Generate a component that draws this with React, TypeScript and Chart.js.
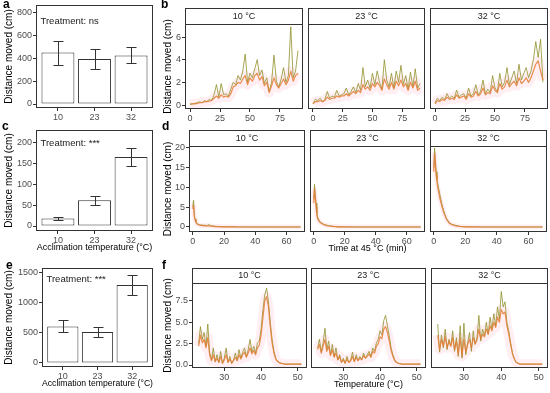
import React, { useEffect, useRef } from 'react';
import { Chart, registerables } from 'chart.js';
Chart.register(...registerables);

const FONT = "'Liberation Sans', Arial, sans-serif";

// ---------- data ----------
const ACCLIM = ['10', '23', '32'];
const STRIPS = ['10 °C', '23 °C', '32 °C'];

const A_MEAN = [450, 395, 425];
const A_LO = [345, 310, 355];
const A_HI = [555, 485, 495];
const A_YTICKS = [0, 200, 400, 600, 800];

const C_MEAN = [18, 62, 166];
const C_LO = [14, 50, 145];
const C_HI = [21, 73, 187];
const C_YTICKS = [0, 50, 100, 150, 200];

const E_MEAN = [610, 515, 1300];
const E_LO = [510, 430, 1135];
const E_HI = [720, 600, 1460];
const E_YTICKS = [0, 500, 1000, 1500];

const B_TIME = [0, 2, 4, 6, 8, 10, 12, 14, 16, 18, 20, 22, 24, 26, 28, 30, 32, 34, 36, 38, 40, 42, 44, 46, 48, 50, 52, 54, 56, 58, 60, 62, 64, 66, 68, 70, 72, 74, 76, 78, 80, 82, 84, 86, 88, 90];
const B_XTICKS = [0, 25, 50, 75];
const B_YTICKS = [0, 2, 4, 6];
const B10_ORANGE = [0.05, 0.1, 0.1, 0.15, 0.2, 0.2, 0.3, 0.3, 0.35, 0.4, 0.6, 0.8, 0.6, 0.9, 0.7, 0.8, 0.7, 1.0, 1.6, 1.7, 2.0, 1.9, 2.3, 2.6, 1.8, 2.4, 2.1, 2.6, 2.8, 2.2, 2.5, 1.7, 2.0, 1.1, 1.7, 2.4, 1.8, 1.5, 1.9, 2.3, 1.8, 2.2, 3.0, 2.1, 2.6, 2.8];
const B10_OLIVE = [0.1, 0.1, 0.15, 0.2, 0.3, 0.2, 0.4, 0.3, 0.5, 0.4, 0.9, 1.8, 0.7, 1.9, 0.9, 1.0, 0.8, 1.4, 2.0, 1.8, 2.6, 2.2, 3.0, 4.5, 2.0, 2.8, 2.4, 3.2, 4.0, 2.6, 3.1, 1.9, 2.4, 1.2, 2.0, 4.4, 2.1, 1.6, 2.3, 3.3, 2.0, 2.6, 6.9, 2.4, 3.0, 4.8];
const B23_ORANGE = [0.1, 0.3, 0.3, 0.4, 0.3, 0.4, 0.7, 0.5, 0.6, 0.6, 0.8, 0.7, 0.8, 0.8, 1.0, 0.8, 1.0, 1.2, 1.0, 1.3, 1.1, 1.8, 1.4, 1.6, 1.3, 1.9, 1.6, 2.0, 1.7, 1.3, 2.3, 1.8, 1.4, 2.0, 1.4, 2.1, 1.7, 2.2, 1.6, 1.9, 1.3, 2.0, 1.5, 2.1, 1.3, 1.5];
const B23_OLIVE = [0.1, 0.5, 0.4, 0.6, 0.3, 0.5, 1.2, 0.6, 0.8, 0.7, 1.3, 0.8, 0.9, 1.0, 1.5, 0.9, 1.2, 1.6, 1.1, 1.9, 1.3, 3.3, 1.6, 2.2, 1.5, 2.8, 1.8, 3.0, 2.0, 1.4, 4.0, 2.2, 1.6, 2.8, 1.5, 3.0, 2.0, 3.5, 1.8, 2.6, 1.4, 2.9, 1.6, 3.2, 1.5, 1.9];
const B32_ORANGE = [0.1, 0.4, 0.3, 0.5, 0.4, 0.7, 0.5, 0.6, 0.5, 0.9, 0.6, 0.7, 0.8, 0.5, 1.0, 0.7, 0.8, 1.2, 0.8, 1.0, 1.5, 0.9, 1.1, 1.0, 1.7, 1.3, 1.1, 1.9, 1.4, 1.6, 2.2, 1.6, 1.9, 2.1, 1.7, 2.4, 1.9, 2.1, 2.4, 2.0, 2.4, 3.0, 3.6, 3.9, 3.0, 2.2];
const B32_OLIVE = [0.2, 0.6, 0.4, 0.7, 0.5, 1.0, 0.6, 0.8, 0.6, 1.3, 0.7, 0.9, 1.0, 0.6, 1.5, 0.8, 1.0, 1.8, 0.9, 1.2, 2.2, 1.0, 1.4, 1.1, 2.6, 1.5, 1.2, 2.8, 1.6, 2.0, 3.3, 1.8, 2.4, 3.0, 1.9, 3.6, 2.2, 2.8, 3.3, 2.4, 3.0, 4.0, 5.6, 4.2, 5.8, 2.0];

const D_TIME = [0, 0.5, 1, 1.5, 2, 2.5, 3, 4, 5, 6, 7, 8, 9, 10, 12, 14, 16, 18, 20, 25, 30, 35, 40, 45, 50, 55, 60, 65, 69];
const D_XTICKS = [0, 20, 40, 60];
const D_YTICKS = [0, 5, 10, 15, 20];
const D10_ORANGE = [4.5, 5.5, 2.6, 1.8, 1.2, 0.9, 0.7, 0.5, 0.4, 0.4, 0.3, 0.3, 0.25, 0.3, 0.2, 0.1, 0.1, 0.05, 0.05, 0.02, 0, 0, 0, 0, 0, 0, 0, 0, 0];
const D10_OLIVE = [5.0, 6.8, 3.0, 2.0, 1.4, 1.0, 0.8, 0.6, 0.5, 0.5, 0.4, 0.5, 0.3, 0.6, 0.3, 0.2, 0.1, 0.1, 0.05, 0.05, 0.02, 0.02, 0, 0, 0, 0, 0, 0, 0];
const D23_ORANGE = [6.0, 9.5, 7.5, 5.0, 3.0, 2.2, 1.7, 1.2, 0.9, 0.7, 0.5, 0.4, 0.3, 0.25, 0.15, 0.1, 0.05, 0.02, 0.02, 0, 0, 0, 0, 0, 0, 0, 0, 0, 0];
const D23_OLIVE = [7.0, 10.8, 8.5, 6.0, 3.5, 2.5, 2.0, 1.4, 1.0, 0.8, 0.6, 0.5, 0.4, 0.3, 0.2, 0.1, 0.05, 0.05, 0.02, 0.02, 0, 0, 0, 0, 0, 0, 0, 0, 0];
const D32_ORANGE = [14, 18.5, 16, 13, 11.5, 10, 9, 7, 5.5, 4, 3, 2, 1.4, 0.9, 0.5, 0.3, 0.15, 0.1, 0.05, 0.02, 0, 0, 0, 0, 0, 0, 0, 0, 0];
const D32_OLIVE = [15, 20, 17, 14, 12, 11, 10, 8, 6, 4.5, 3.2, 2.2, 1.6, 1.0, 0.6, 0.4, 0.2, 0.1, 0.05, 0.02, 0.02, 0, 0, 0, 0, 0, 0, 0, 0];

const F_TEMP = [23, 23.5, 24, 24.5, 25, 25.5, 26, 26.5, 27, 27.5, 28, 28.5, 29, 29.5, 30, 30.5, 31, 31.5, 32, 32.5, 33, 33.5, 34, 34.5, 35, 35.5, 36, 36.5, 37, 37.5, 38, 38.5, 39, 39.5, 40, 40.5, 41, 41.5, 42, 42.5, 43, 43.5, 44, 44.5, 45, 45.5, 46, 46.5, 47, 47.5, 48, 48.5, 49, 49.5, 50, 50.5, 51];
const F_XTICKS = [30, 40, 50];
const F_YTICKS = [0, 2.5, 5, 7.5];
const F10_ORANGE = [2.2, 3.5, 2.6, 3.0, 2.0, 3.2, 1.2, 0.5, 1.2, 0.4, 0.8, 0.3, 1.0, 0.2, 0.6, 1.2, 0.3, 0.7, 0.2, 0.5, 0.9, 0.5, 1.2, 0.7, 1.2, 1.5, 0.9, 1.4, 2.0, 1.3, 1.7, 1.2, 2.0, 2.3, 3.5, 5.5, 7.5, 8.0, 6.8, 4.5, 2.6, 1.4, 0.7, 0.4, 0.25, 0.2, 0.15, 0.1, 0.1, 0.1, 0.1, 0.1, 0.1, 0.1, 0.1, 0.1, 0.1];
const F10_OLIVE = [2.5, 4.5, 3.0, 3.8, 2.2, 4.8, 1.5, 0.6, 2.0, 0.4, 1.2, 0.3, 1.6, 0.2, 0.8, 2.0, 0.3, 1.0, 0.2, 0.6, 1.4, 0.5, 1.8, 0.8, 1.5, 2.0, 1.0, 1.8, 3.0, 1.5, 2.2, 1.4, 2.6, 2.8, 4.2, 6.5, 8.2, 9.0, 7.5, 5.0, 3.0, 1.6, 0.8, 0.4, 0.3, 0.2, 0.15, 0.1, 0.1, 0.1, 0.1, 0.1, 0.1, 0.1, 0.1, 0.1, 0.1];
const F23_ORANGE = [1.8, 2.4, 1.4, 2.2, 3.0, 1.6, 2.2, 1.1, 1.8, 0.9, 1.4, 0.6, 1.0, 0.3, 0.6, 0.2, 0.7, 0.3, 0.5, 1.0, 0.4, 0.9, 0.5, 0.8, 0.6, 1.1, 0.8, 1.0, 1.3, 0.9, 1.6, 1.4, 2.2, 2.5, 3.3, 3.1, 4.2, 4.5, 3.8, 2.8, 1.7, 1.0, 0.5, 0.3, 0.2, 0.15, 0.1, 0.1, 0.1, 0.1, 0.1, 0.1, 0.1, 0.1, 0.1, 0.1, 0.1];
const F23_OLIVE = [2.0, 3.0, 1.5, 2.6, 4.3, 1.8, 2.8, 1.2, 2.4, 1.0, 2.0, 0.6, 1.2, 0.3, 0.8, 0.2, 1.0, 0.3, 0.6, 1.5, 0.4, 1.2, 0.5, 1.0, 0.6, 1.4, 0.8, 1.2, 1.6, 1.0, 2.0, 1.6, 2.6, 3.0, 4.0, 3.5, 5.2, 5.8, 4.6, 3.4, 2.0, 1.2, 0.6, 0.3, 0.2, 0.15, 0.1, 0.1, 0.1, 0.1, 0.1, 0.1, 0.1, 0.1, 0.1, 0.1, 0.1];
const F32_ORANGE = [3.5, 1.8, 3.0, 2.2, 3.3, 2.0, 2.8, 2.2, 3.2, 1.8, 2.8, 1.2, 3.2, 1.0, 3.0, 1.5, 2.4, 3.0, 2.0, 3.2, 2.5, 2.9, 4.2, 3.0, 3.6, 3.3, 4.2, 3.6, 4.6, 4.0, 5.0, 4.4, 5.6, 5.0, 6.5, 6.0, 6.2, 4.6, 3.6, 2.4, 1.3, 0.7, 0.3, 0.2, 0.1, 0.1, 0.1, 0.1, 0.1, 0.1, 0.1, 0.1, 0.1, 0.1, 0.1, 0.1, 0.1];
const F32_OLIVE = [4.8, 1.5, 3.5, 2.0, 4.2, 1.8, 3.0, 2.2, 4.0, 1.6, 3.2, 1.0, 4.6, 0.8, 4.9, 1.2, 2.6, 3.8, 1.6, 4.0, 2.4, 3.2, 5.8, 2.8, 4.2, 3.4, 5.0, 3.6, 5.6, 4.2, 6.0, 4.6, 6.8, 5.4, 8.6, 6.8, 7.4, 5.0, 4.0, 2.6, 1.4, 0.7, 0.3, 0.2, 0.1, 0.1, 0.1, 0.1, 0.1, 0.1, 0.1, 0.1, 0.1, 0.1, 0.1, 0.1, 0.1];

// ---------- styling ----------
const ORANGE = 'rgba(228,124,52,0.85)';
const OLIVE = 'rgba(145,145,45,0.8)';
const PINK = 'rgba(255,150,175,0.16)';
const INK = '#333333';
const TICK = '#4d4d4d';

const decor: any = {
  id: 'decor',
  afterDatasetsDraw(chart: any, _a: any, o: any) {
    if (!o || !o.lo) return;
    const { ctx, scales } = chart;
    const x = scales.x, y = scales.y;
    ctx.save();
    ctx.strokeStyle = INK;
    ctx.lineWidth = 1;
    for (let i = 0; i < o.lo.length; i++) {
      const px = Math.round(x.getPixelForValue(i + 1)) + 0.5;
      const y1 = Math.round(y.getPixelForValue(o.lo[i])) + 0.5;
      const y2 = Math.round(y.getPixelForValue(o.hi[i])) + 0.5;
      ctx.beginPath();
      ctx.moveTo(px, y1); ctx.lineTo(px, y2);
      ctx.moveTo(px - 5, y1); ctx.lineTo(px + 5, y1);
      ctx.moveTo(px - 5, y2); ctx.lineTo(px + 5, y2);
      ctx.stroke();
    }
    ctx.restore();
  },
  afterDraw(chart: any, _a: any, o: any) {
    const { ctx, chartArea: ca } = chart;
    ctx.save();
    ctx.strokeStyle = INK;
    ctx.lineWidth = 1;
    ctx.strokeRect(ca.left + 0.5, ca.top + 0.5, ca.right - ca.left - 1, ca.bottom - ca.top - 1);
    if (o && o.strip) {
      const h = o.stripH;
      ctx.fillStyle = '#ffffff';
      ctx.fillRect(ca.left, ca.top - h, ca.right - ca.left, h);
      ctx.strokeRect(ca.left + 0.5, ca.top - h + 0.5, ca.right - ca.left - 1, h);
      ctx.fillStyle = '#1a1a1a';
      ctx.font = `9px ${FONT}`;
      ctx.textAlign = 'center';
      ctx.textBaseline = 'middle';
      ctx.fillText(o.strip, (ca.left + ca.right) / 2, ca.top - h / 2 + 0.5);
    }
    if (o && o.note) {
      ctx.fillStyle = '#1a1a1a';
      ctx.font = `9.5px ${FONT}`;
      ctx.textAlign = 'left';
      ctx.textBaseline = 'middle';
      ctx.fillText(o.note, ca.left + 4.5, ca.top + o.noteDy);
    }
    ctx.restore();
  },
};

function axisX(min: number, max: number, ticks: number[], fmt: (v: number) => string, hgt: number, title: string) {
  return {
    type: 'linear', min, max, offset: false,
    afterBuildTicks: (s: any) => { s.ticks = ticks.map((v) => ({ value: v })); },
    afterFit: (s: any) => { s.height = hgt; s.paddingLeft = 0; s.paddingRight = 0; },
    ticks: { callback: (v: any) => fmt(Number(v)), font: { size: 9, family: FONT }, color: TICK, padding: 1, maxRotation: 0, autoSkip: false },
    grid: { drawOnChartArea: false, tickLength: 3, color: INK, offset: false },
    border: { display: false },
    title: { display: !!title, text: title, font: { size: 9, family: FONT }, color: '#000', padding: 0 },
  };
}

function axisY(min: number, max: number, ticks: number[], fmt: (v: number) => string, wid: number, show: boolean) {
  return {
    type: 'linear', min, max, display: show,
    afterBuildTicks: (s: any) => { s.ticks = ticks.map((v) => ({ value: v })); },
    afterFit: (s: any) => { s.width = wid; s.paddingTop = 0; s.paddingBottom = 0; },
    ticks: { callback: (v: any) => fmt(Number(v)), font: { size: 9, family: FONT }, color: TICK, padding: 1, autoSkip: false },
    grid: { drawOnChartArea: false, tickLength: 3, color: INK },
    border: { display: false },
    title: { display: show, text: 'Distance moved (cm)', font: { size: 10, family: FONT }, color: '#000', padding: 0 },
  };
}

type M = { l: number; t: number; r: number; b: number };

function barConfig(mean: number[], lo: number[], hi: number[], yMin: number, yMax: number, yTicks: number[], note: string, noteDy: number, m: M, xTitle: string) {
  return {
    type: 'bar',
    data: {
      datasets: [{
        data: mean.map((v, i) => ({ x: i + 1, y: v })),
        backgroundColor: '#ffffff', borderColor: INK, borderWidth: 1, borderSkipped: false,
        barPercentage: 0.9, categoryPercentage: 1,
      }],
    },
    options: {
      animation: false, responsive: false, devicePixelRatio: 1, events: [],
      layout: { padding: { left: 0, top: m.t, right: m.r, bottom: 0 } },
      plugins: { legend: { display: false }, tooltip: { enabled: false }, decor: { lo, hi, note, noteDy } },
      scales: {
        x: axisX(0.4, 3.6, [1, 2, 3], (v) => ACCLIM[v - 1] ?? '', m.b, xTitle),
        y: axisY(yMin, yMax, yTicks, (v) => String(v), m.l, true),
      },
    },
    plugins: [decor],
  };
}

function facetConfig(p: any) {
  const pts = (arr: number[]) => arr.map((v, i) => ({ x: p.time[i], y: v }));
  return {
    type: 'line',
    data: {
      datasets: [
        { data: pts(p.orange), borderColor: ORANGE, borderWidth: 1.2 },
        { data: pts(p.olive), borderColor: OLIVE, borderWidth: 1 },
        { data: pts(p.orange), borderColor: PINK, borderWidth: p.ribbon },
      ],
    },
    options: {
      animation: false, responsive: false, devicePixelRatio: 1, events: [],
      elements: { point: { radius: 0 }, line: { tension: 0, borderJoinStyle: 'round', fill: false } },
      layout: { padding: { left: p.showY ? 0 : p.m.l, top: p.m.t, right: p.m.r, bottom: 0 } },
      plugins: { legend: { display: false }, tooltip: { enabled: false }, decor: { strip: p.strip, stripH: p.stripH } },
      scales: {
        x: axisX(p.xMin, p.xMax, p.xTicks, (v) => String(v), p.m.b, p.xTitle),
        y: axisY(p.yMin, p.yMax, p.yTicks, p.yFmt, p.m.l, p.showY),
      },
    },
    plugins: [decor],
  };
}

function ChartBox({ L, T, R, B, m, make }: { L: number; T: number; R: number; B: number; m: M; make: () => any }) {
  const ref = useRef<HTMLCanvasElement>(null);
  const w = R - L + m.l + m.r;
  const h = B - T + m.t + m.b;
  useEffect(() => {
    const chart = new Chart(ref.current as HTMLCanvasElement, make());
    return () => chart.destroy();
  }, []);
  return <canvas ref={ref} width={w} height={h} style={{ position: 'absolute', left: L - m.l, top: T - m.t, width: w, height: h }} />;
}

const Letter = ({ ch, x, y }: { ch: string; x: number; y: number }) => (
  <div style={{ position: 'absolute', left: x, top: y, font: `bold 12px ${FONT}`, lineHeight: 1, color: '#000' }}>{ch}</div>
);

export default function App() {
  const bRow = [
    { L: 185, R: 303, orange: B10_ORANGE, olive: B10_OLIVE },
    { L: 307, R: 425, orange: B23_ORANGE, olive: B23_OLIVE },
    { L: 429, R: 548, orange: B32_ORANGE, olive: B32_OLIVE },
  ];
  const dRow = [
    { L: 189, R: 305, orange: D10_ORANGE, olive: D10_OLIVE },
    { L: 309, R: 425, orange: D23_ORANGE, olive: D23_OLIVE },
    { L: 429, R: 547, orange: D32_ORANGE, olive: D32_OLIVE },
  ];
  const fRow = [
    { L: 192, R: 307, orange: F10_ORANGE, olive: F10_OLIVE },
    { L: 310, R: 426, orange: F23_ORANGE, olive: F23_OLIVE },
    { L: 430, R: 548, orange: F32_ORANGE, olive: F32_OLIVE },
  ];
  return (
    <div style={{ position: 'fixed', left: 0, top: 0, width: 550, height: 393, background: '#fff', overflow: 'hidden' }}>
      <ChartBox L={36} T={5} R={153} B={108} m={{ l: 33, t: 2, r: 2, b: 14 }}
        make={() => barConfig(A_MEAN, A_LO, A_HI, -35, 867, A_YTICKS, 'Treatment: ns', 16.7, { l: 33, t: 2, r: 2, b: 14 }, '')} />
      <ChartBox L={36} T={130} R={153} B={231} m={{ l: 33, t: 2, r: 2, b: 22 }}
        make={() => barConfig(C_MEAN, C_LO, C_HI, -12, 231, C_YTICKS, 'Treatment: ***', 13.3, { l: 33, t: 2, r: 2, b: 22 }, 'Acclimation temperature (°C)')} />
      <ChartBox L={42} T={268} R={153} B={367} m={{ l: 39, t: 2, r: 2, b: 22 }}
        make={() => barConfig(E_MEAN, E_LO, E_HI, -67, 1583, E_YTICKS, 'Treatment: ***', 11.3, { l: 39, t: 2, r: 2, b: 22 }, 'Acclimation temperature (°C)')} />

      {bRow.map((f, i) => {
        const m = { l: i === 0 ? 23 : 1, t: 17, r: 1, b: 14 };
        return <ChartBox key={'b' + i} L={f.L} T={24} R={f.R} B={109} m={m} make={() => facetConfig({
          time: B_TIME, orange: f.orange, olive: f.olive, ribbon: 10,
          xMin: -4.2, xMax: 94.2, xTicks: B_XTICKS, yMin: -0.35, yMax: 7.15, yTicks: B_YTICKS, yFmt: (v: number) => String(v),
          showY: i === 0, strip: STRIPS[i], stripH: 16, m, xTitle: '',
        })} />;
      })}
      {dRow.map((f, i) => {
        const m = { l: i === 0 ? 27 : 1, t: 17, r: 1, b: 22 };
        return <ChartBox key={'d' + i} L={f.L} T={146} R={f.R} B={232} m={m} make={() => facetConfig({
          time: D_TIME, orange: f.orange, olive: f.olive, ribbon: 5,
          xMin: -2.4, xMax: 71.8, xTicks: D_XTICKS, yMin: -1.27, yMax: 20.5, yTicks: D_YTICKS, yFmt: (v: number) => String(v),
          showY: i === 0, strip: STRIPS[i], stripH: 16, m, xTitle: i === 1 ? 'Time at 45 °C (min)' : '',
        })} />;
      })}
      {fRow.map((f, i) => {
        const m = { l: i === 0 ? 30 : 1, t: 16, r: 1, b: 22 };
        return <ChartBox key={'f' + i} L={f.L} T={283} R={f.R} B={368} m={m} make={() => facetConfig({
          time: F_TEMP, orange: f.orange, olive: f.olive, ribbon: 10,
          xMin: 21.2, xMax: 52.5, xTicks: F_XTICKS, yMin: -0.35, yMax: 9.6, yTicks: F_YTICKS, yFmt: (v: number) => v.toFixed(1),
          showY: i === 0, strip: STRIPS[i], stripH: 15, m, xTitle: i === 1 ? 'Temperature (°C)' : '',
        })} />;
      })}

      <Letter ch="a" x={3} y={-2} />
      <Letter ch="b" x={161} y={-2} />
      <Letter ch="c" x={2} y={120} />
      <Letter ch="d" x={162} y={120} />
      <Letter ch="e" x={6} y={259} />
      <Letter ch="f" x={162} y={259} />
    </div>
  );
}
